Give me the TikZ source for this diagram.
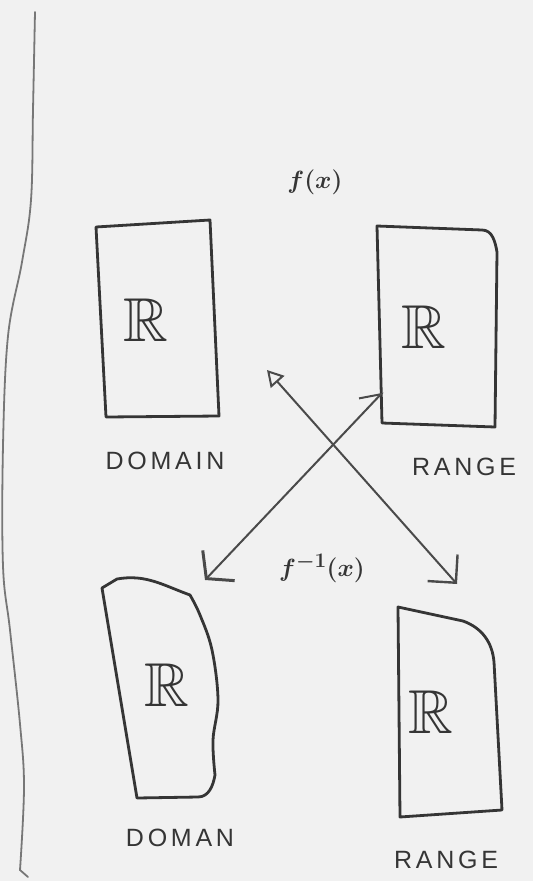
\documentclass[tikz,border=0pt]{standalone}
\usepackage{amssymb}
\usepackage{fontspec}
\newfontfamily\labelfont[LetterSpace=15]{Liberation Sans}
\usetikzlibrary{arrows.meta}
\definecolor{paper}{HTML}{F1F1F1}
\definecolor{ink}{HTML}{353535}
\definecolor{ink2}{HTML}{4A4A4A}
\begin{document}
\begin{tikzpicture}[x=1pt,y=-1pt,
  pen/.style={draw=ink, line width=2.8pt, line join=round, line cap=round},
  margin/.style={draw=ink2!75, line width=1.8pt, line cap=round},
  arrowline/.style={draw=ink2, line width=2pt, line cap=round},
  realsym/.style={font=\fontsize{62}{62}\selectfont\boldmath, text=ink, inner sep=0pt},
  caption/.style={font=\labelfont\fontsize{25}{25}\selectfont, text=ink, inner sep=0pt},
  mathlabel/.style={font=\fontsize{28}{28}\selectfont\boldmath, text=ink, inner sep=0pt}]
\fill[paper] (0,0) rectangle (533,881);
\useasboundingbox (0,0) rectangle (533,881);

% margin line
\draw[margin] plot[smooth, tension=0.6] coordinates {(35,12) (33,110) (31,200) (22,262) (8,336) (3,446) (3,566) (10,630) (20,724) (24,787) (20,870)} -- (28,877);

% top-left box (domain)
\draw[pen] (96,227) -- (210,220) -- (219,416) -- (106,417) -- cycle;
\node[realsym] (r1) at (146,320) {$\mathbb{R}$};
\node[caption] (dom1) at (165,461) {DOMAIN};

% top-right box (range)
\draw[pen] (377,226) -- (482,230) to[out=0,in=100] (497,252) -- (495,427) -- (382,423) -- cycle;
\node[realsym] (r2) at (424,327) {$\mathbb{R}$};
\node[caption] (ran1) at (464,467) {RANGE};

% bottom-left box (domain)
\draw[pen] (102,588) -- (137,798) -- (198,797) to[out=0,in=-100] (215,775)
  -- plot[smooth, tension=0.6] coordinates {(215,775) (213,740) (218,700) (212,650) (200,615) (190,595)}
  to[out=160,in=10] (117,579) -- cycle;
\node[realsym] (r3) at (167,685) {$\mathbb{R}$};
\node[caption] (dom2) at (180,838) {DOMAN};

% bottom-right box (range)
\draw[pen] (398,607) -- (400,817) -- (502,810) -- (494,662) to[out=95,in=-20] (463,621) -- cycle;
\node[realsym] (r4) at (431,712) {$\mathbb{R}$};
\node[caption] (ran2) at (446,860) {RANGE};

% function labels
\node[mathlabel] (fx) at (315,182) {$f(x)$};
\node[mathlabel] (finv) at (322,568) {$f^{-1}(x)$};

% arrow end points
\coordinate (a1s) at (267,370);
\coordinate (a1e) at (457,584);
\coordinate (a2s) at (383,392);
\coordinate (a2e) at (205,580);

\draw[arrowline, {Triangle[open,length=16pt,width=18pt,line width=2pt]}-{Straight Barb[length=20pt,width=40pt,line width=2.4pt]}] (a1s) -- (a1e);
\draw[arrowline, {Straight Barb[harpoon,length=18pt,width=26pt,line width=2pt]}-{Straight Barb[length=18pt,width=44pt,line width=3pt]}] (a2s) -- (a2e);
\end{tikzpicture}
\end{document}
